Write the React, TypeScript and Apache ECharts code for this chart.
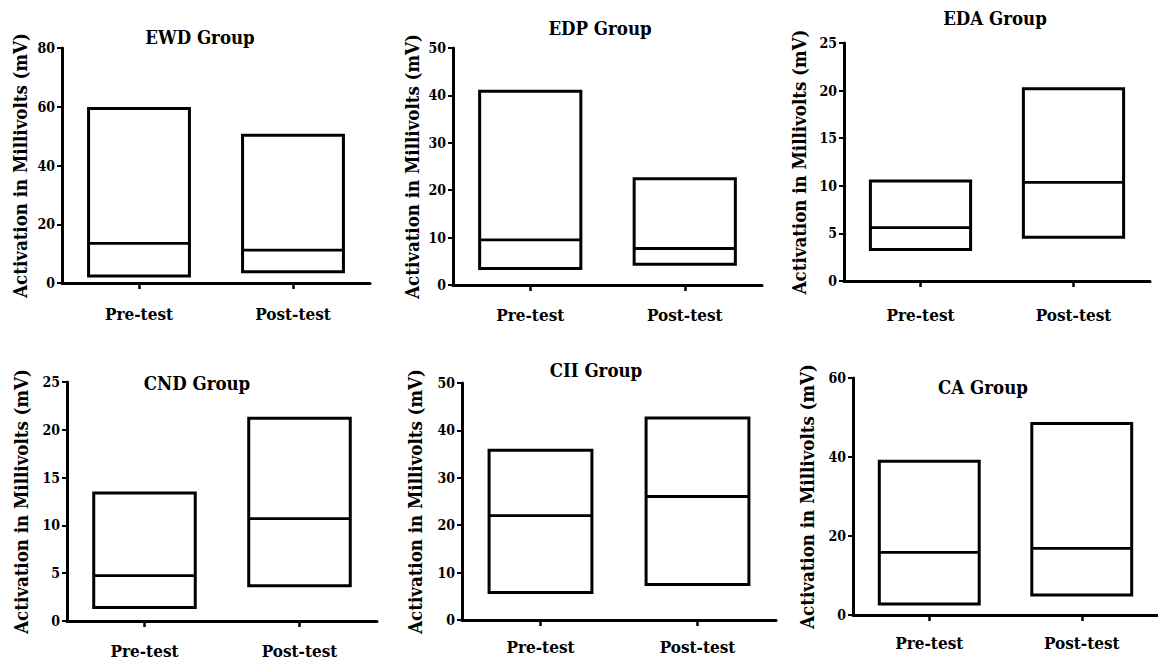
import React, { useEffect, useRef } from "react";
import * as echarts from "echarts";

// ---------- data ----------
const categories = ["Pre-test", "Post-test"];
const groupTitles = ["EWD Group", "EDP Group", "EDA Group", "CND Group", "CII Group", "CA Group"];
const yMaxes = [80, 50, 25, 25, 50, 60];
const yIntervals = [20, 10, 5, 5, 10, 20];
const minValues = [[2.4, 3.8], [3.5, 4.4], [3.3, 4.6], [1.4, 3.7], [5.8, 7.5], [2.8, 5.05]];
const medianValues = [[13.5, 11.2], [9.5, 7.7], [5.6, 10.35], [4.75, 10.7], [22.0, 26.05], [15.85, 16.85]];
const maxValues = [[59.4, 50.3], [40.9, 22.4], [10.5, 20.2], [13.4, 21.2], [35.8, 42.6], [38.9, 48.5]];
const yAxisTitle = "Activation in Millivolts (mV)";

// ---------- layout ----------
const FONT = "DejaVu Serif Condensed, DejaVu Serif, serif";
const grids = [
  { left: 62, top: 48, width: 308, height: 235 },
  { left: 453, top: 48, width: 309, height: 237 },
  { left: 844, top: 43, width: 306, height: 238 },
  { left: 67, top: 382, width: 310, height: 239 },
  { left: 462, top: 383, width: 314, height: 237 },
  { left: 853, top: 378, width: 310, height: 237 },
];
const titlePos = [
  [200, 37], [600, 28], [995, 18], [197, 383], [596, 370], [983, 387],
];
const nameGaps = [32, 31, 35, 36, 37, 36];
const catMargins = [22, 21, 25, 21, 18, 19];

export default function App() {
  const ref = useRef<HTMLDivElement>(null);
  useEffect(() => {
    if (!ref.current) return;
    const chart = echarts.init(ref.current, undefined, { renderer: "svg" });
    const renderItem = (params: any, api: any) => {
      const idx = api.value(0);
      const lo = api.coord([idx, api.value(1)]);
      const md = api.coord([idx, api.value(2)]);
      const hi = api.coord([idx, api.value(3)]);
      const bw = api.size([1, 0])[0] * 0.655;
      const x0 = lo[0] - bw / 2;
      return {
        type: "group",
        children: [
          {
            type: "rect",
            shape: { x: x0, y: hi[1], width: bw, height: lo[1] - hi[1] },
            style: { fill: "#fff", stroke: "#000", lineWidth: 3 },
          },
          {
            type: "line",
            shape: { x1: x0, y1: md[1], x2: x0 + bw, y2: md[1] },
            style: { stroke: "#000", lineWidth: 2.8 },
          },
        ],
      };
    };
    const option: any = {
      animation: false,
      backgroundColor: "#fff",
      grid: grids.map((g) => ({ ...g, containLabel: false })),
      xAxis: grids.map((_, i) => ({
        type: "category",
        gridIndex: i,
        data: categories,
        boundaryGap: true,
        axisLine: { show: true, lineStyle: { color: "#000", width: 3 } },
        axisTick: { show: true, alignWithLabel: true, length: 6, lineStyle: { color: "#000", width: 2.5 } },
        axisLabel: {
          color: "#000",
          fontFamily: FONT,
          fontWeight: "bold",
          fontSize: 17,
          margin: catMargins[i],
        },
        splitLine: { show: false },
      })),
      yAxis: grids.map((_, i) => ({
        type: "value",
        gridIndex: i,
        min: 0,
        max: yMaxes[i],
        interval: yIntervals[i],
        name: yAxisTitle,
        nameLocation: "middle",
        nameRotate: 90,
        nameGap: nameGaps[i],
        nameTextStyle: { color: "#000", fontFamily: FONT, fontWeight: "bold", fontSize: 18.5 },
        axisLine: { show: true, lineStyle: { color: "#000", width: 3 } },
        axisTick: { show: true, length: 5, lineStyle: { color: "#000", width: 2 } },
        axisLabel: { color: "#000", fontFamily: FONT, fontWeight: "bold", fontSize: 14, margin: 7 },
        splitLine: { show: false },
      })),
      series: grids.map((_, i) => ({
        type: "custom",
        xAxisIndex: i,
        yAxisIndex: i,
        renderItem,
        encode: { x: 0, y: [1, 2, 3] },
        data: categories.map((_, j) => [j, minValues[i][j], medianValues[i][j], maxValues[i][j]]),
      })),
      graphic: groupTitles.map((t, i) => ({
        type: "text",
        x: titlePos[i][0],
        y: titlePos[i][1],
        style: {
          text: t,
          fontFamily: FONT,
          fontWeight: "bold",
          fontSize: 18.5,
          fill: "#000",
          textAlign: "center",
          textVerticalAlign: "middle",
        },
      })),
    };
    chart.setOption(option);
    return () => chart.dispose();
  }, []);
  return (
    <div
      ref={ref}
      style={{ position: "fixed", left: 0, top: 0, width: 1158, height: 661, background: "#fff" }}
    />
  );
}
